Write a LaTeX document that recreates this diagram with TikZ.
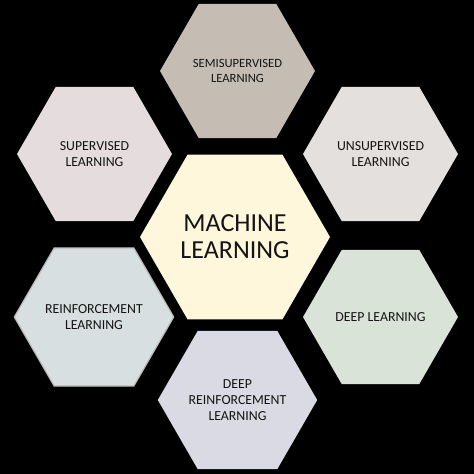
\documentclass[tikz,border=0pt]{standalone}
\usepackage{fontspec}
\setmainfont{Carlito}
\usepackage{xcolor}
\usetikzlibrary{shapes.geometric}
\definecolor{semicol}{RGB}{197,189,180}
\definecolor{supcol}{RGB}{229,221,221}
\definecolor{unsupcol}{RGB}{228,224,221}
\definecolor{mlcol}{RGB}{254,247,220}
\definecolor{reincol}{RGB}{216,223,224}
\definecolor{deepcol}{RGB}{218,227,216}
\definecolor{drlcol}{RGB}{218,218,228}
\definecolor{txtcol}{RGB}{20,20,20}

\begin{document}
\begin{tikzpicture}[x=1pt, y=-1pt,
  hexa/.style={regular polygon, regular polygon sides=6, minimum size=155pt,
    inner sep=0pt, outer sep=0pt, align=center, text=txtcol,
    font=\fontsize{13.8}{16}\selectfont},
  bighexa/.style={hexa, minimum size=190pt, font=\fontsize{26}{27}\selectfont}]
  % Background
  \fill[black] (0,0) rectangle (474,474);

  % Centre
  \node[bighexa, fill=mlcol] (ml) at (235,237) {MACHINE\\LEARNING};

  % Ring of branches
  \node[hexa, fill=semicol, font=\fontsize{12.6}{15}\selectfont] (semi) at (237.5,71) {SEMISUPERVISED\\LEARNING};
  \node[hexa, fill=supcol] (sup) at (94.5,154) {SUPERVISED\\LEARNING};
  \node[hexa, fill=unsupcol] (unsup) at (380.5,154) {UNSUPERVISED\\LEARNING};
  \node[hexa, fill=reincol, draw=gray!55, line width=1.2pt] (rein) at (94,317) {REINFORCEMENT\\LEARNING};
  \node[hexa, fill=deepcol] (deep) at (380.5,317) {DEEP LEARNING};
  \node[hexa, fill=drlcol] (drl) at (237.5,400) {DEEP\\REINFORCEMENT\\LEARNING};
\end{tikzpicture}
\end{document}
